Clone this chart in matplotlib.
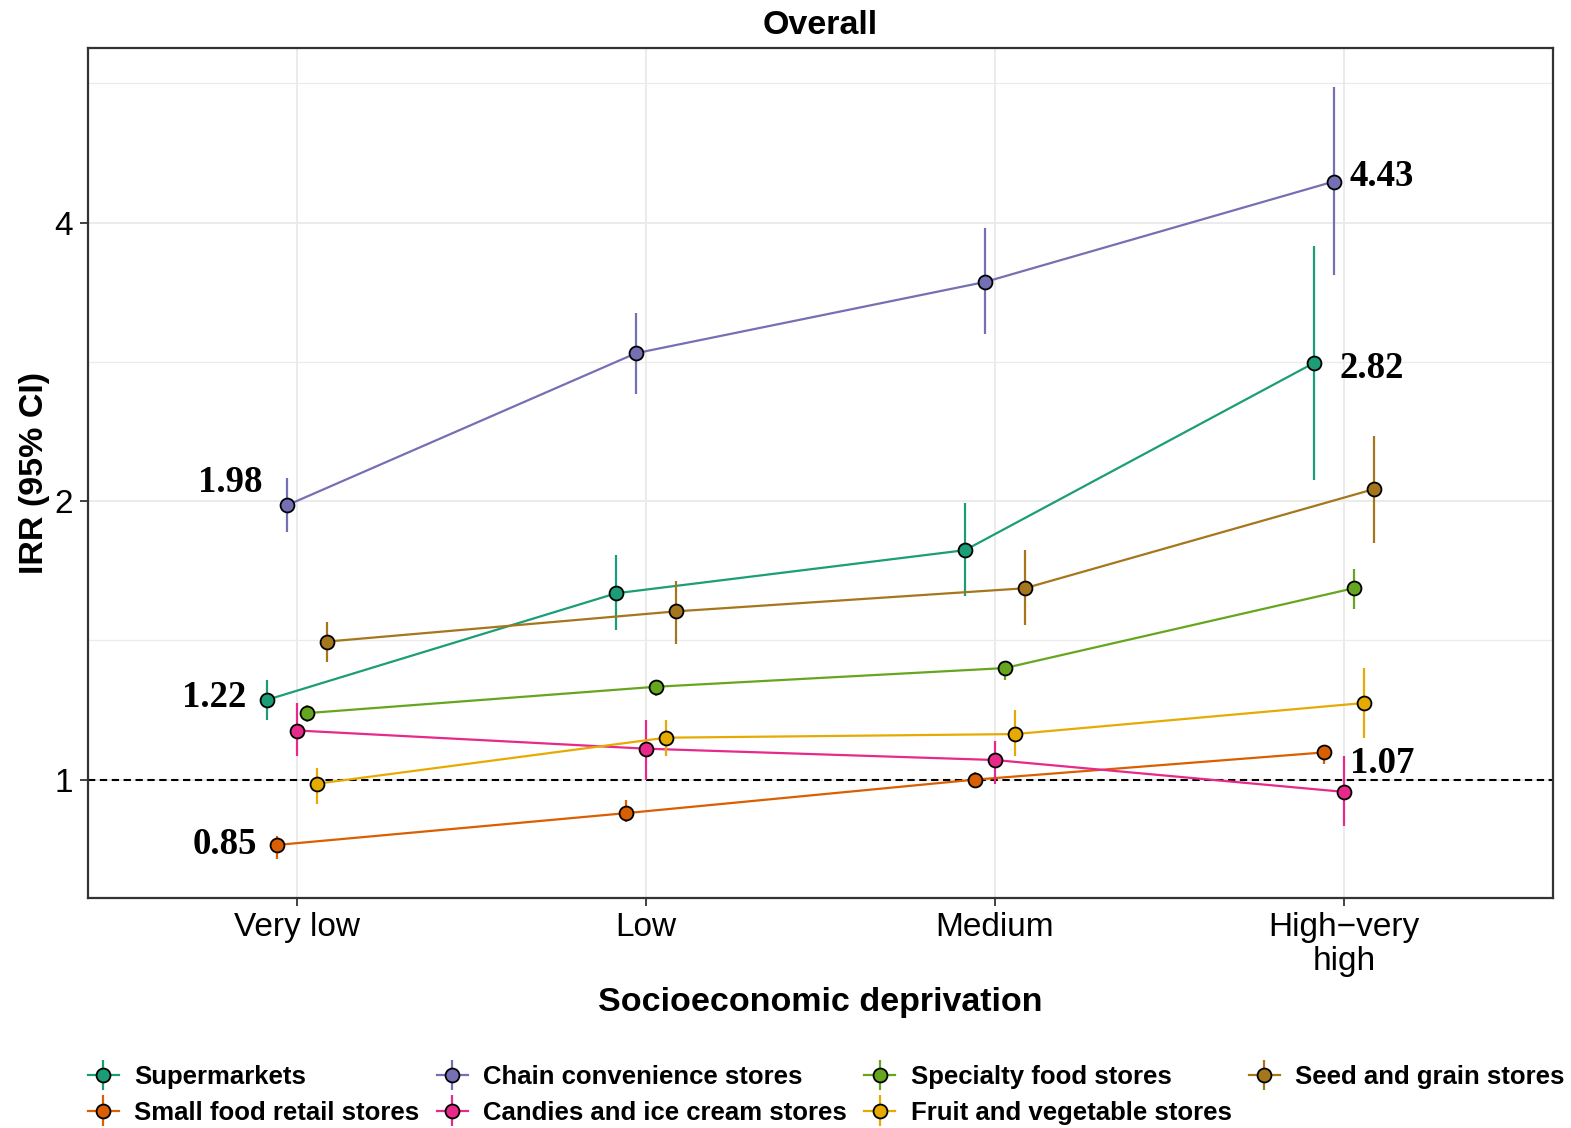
import numpy as np
import matplotlib
matplotlib.use("Agg")
import matplotlib.pyplot as plt
from matplotlib.legend_handler import HandlerErrorbar
from matplotlib.container import ErrorbarContainer

# ---------------- data ----------------
categories = ["Very low", "Low", "Medium", "High\u2212very\nhigh"]
series = ["Supermarkets", "Small food retail stores", "Chain convenience stores",
          "Candies and ice cream stores", "Specialty food stores",
          "Fruit and vegetable stores", "Seed and grain stores"]
colors = ["#1B9E77", "#D95F02", "#7570B3", "#E7298A", "#66A61E", "#E6AB02", "#A6761D"]

irr_supermarkets = [1.22, 1.59, 1.77, 2.82]
lo_supermarkets = [1.16, 1.45, 1.58, 2.11]
hi_supermarkets = [1.28, 1.75, 1.99, 3.77]

irr_small_food = [0.85, 0.92, 1.00, 1.07]
lo_small_food = [0.82, 0.90, 0.98, 1.04]
hi_small_food = [0.87, 0.95, 1.02, 1.09]

irr_chain = [1.98, 2.89, 3.45, 4.43]
lo_chain = [1.85, 2.61, 3.03, 3.51]
hi_chain = [2.12, 3.19, 3.95, 5.61]

irr_candies = [1.13, 1.08, 1.05, 0.97]
lo_candies = [1.06, 1.00, 0.99, 0.89]
hi_candies = [1.21, 1.16, 1.10, 1.06]

irr_specialty = [1.18, 1.26, 1.32, 1.61]
lo_specialty = [1.155, 1.23, 1.28, 1.53]
hi_specialty = [1.205, 1.28, 1.345, 1.69]

irr_fruit = [0.99, 1.11, 1.12, 1.21]
lo_fruit = [0.94, 1.06, 1.06, 1.11]
hi_fruit = [1.03, 1.16, 1.19, 1.32]

irr_seed = [1.41, 1.52, 1.61, 2.06]
lo_seed = [1.34, 1.40, 1.47, 1.80]
hi_seed = [1.48, 1.64, 1.77, 2.35]

irr = [irr_supermarkets, irr_small_food, irr_chain, irr_candies, irr_specialty, irr_fruit, irr_seed]
lows = [lo_supermarkets, lo_small_food, lo_chain, lo_candies, lo_specialty, lo_fruit, lo_seed]
highs = [hi_supermarkets, hi_small_food, hi_chain, hi_candies, hi_specialty, hi_fruit, hi_seed]

# labels: (series index, category index, text, offset in px)
annotations = [
    (2, 0, "1.98", (-57, 23)),
    (0, 0, "1.22", (-53, 2)),
    (1, 0, "0.85", (-52, 0)),
    (2, 3, "4.43", (48, 5)),
    (0, 3, "2.82", (58, -5)),
    (1, 3, "1.07", (58, -11)),
]

# ---------------- figure ----------------
W, H, DPI = 1571, 1128, 100
fig = plt.figure(figsize=(W / DPI, H / DPI), dpi=DPI)
L, R, T, B = 88, 1553, 48, 898
ax = fig.add_axes([L / W, 1 - B / H, (R - L) / W, (B - T) / H])
px2pt = 72 / DPI

ax.set_yscale("log", base=2)
ngroups = len(series)
dodge = 0.2
x0 = np.arange(len(categories))

# grid
ax.set_axisbelow(True)
for xc in x0:
    ax.axvline(xc, color="#EBEBEB", lw=2.0 * px2pt, zorder=0)
for yv in [1, 2, 4]:
    ax.axhline(yv, color="#EBEBEB", lw=2.0 * px2pt, zorder=0)
for yv in [2 ** 0.5, 2 ** 1.5, 2 ** 2.5]:
    ax.axhline(yv, color="#EBEBEB", lw=1.2 * px2pt, zorder=0)

ax.axhline(1, color="black", lw=1.5, ls=(0, (3.5, 2.2)), zorder=1)

handles = []
for i in range(ngroups):
    off = (i - (ngroups - 1) / 2) * dodge / ngroups
    xs = x0 + off
    y = np.array(irr[i])
    lo = np.array(lows[i])
    hi = np.array(highs[i])
    eb = ax.errorbar(xs, y, yerr=[y - lo, hi - y], fmt="-o", color=colors[i],
                     mfc=colors[i], mec="black", mew=1.3, ms=10,
                     lw=1.6, elinewidth=1.6, capsize=0,
                     zorder=3 + i, label=series[i])
    handles.append(eb)

for si, ci, txt, (dx, dy) in annotations:
    off = (si - (ngroups - 1) / 2) * dodge / ngroups
    ax.annotate(txt, xy=(x0[ci] + off, irr[si][ci]),
                xytext=(dx * px2pt, dy * px2pt), textcoords="offset points",
                ha="center", va="center", fontsize=26.5, fontweight="bold",
                family="Liberation Serif", zorder=20)

# limits
allv = np.log2(np.concatenate([np.array(lows).ravel(), np.array(highs).ravel()]))
rng = allv.max() - allv.min()
ax.set_ylim(2 ** (allv.min() - 0.05 * rng), 2 ** (allv.max() + 0.05 * rng))
ax.set_xlim(-0.6, len(categories) - 1 + 0.6)

ax.set_yticks([1, 2, 4])
ax.set_yticklabels(["1", "2", "4"])
ax.yaxis.set_minor_locator(matplotlib.ticker.NullLocator())
ax.set_xticks(x0)
ax.set_xticklabels(categories, linespacing=1.15)

ax.tick_params(axis="both", length=6, width=1.3, color="#333333", labelsize=24,
               labelcolor="black", direction="out")
ax.tick_params(axis="x", pad=4)
ax.tick_params(axis="y", pad=5)
for lab in ax.get_xticklabels() + ax.get_yticklabels():
    lab.set_family("Liberation Sans")

for sp in ax.spines.values():
    sp.set_color("#333333")
    sp.set_linewidth(1.6)

ax.set_xlabel("Socioeconomic deprivation", fontsize=24.5, fontweight="bold",
              family="Liberation Sans", va="center")
ax.xaxis.set_label_coords(0.5, -(1003 - B) / (B - T))
ax.set_ylabel("IRR (95% CI)", fontsize=24.5, fontweight="bold",
              family="Liberation Sans", va="center")
ax.yaxis.set_label_coords(-(L - 35) / (R - L), 0.5)

ax.text(0.5, 1 + (T - 26) / (B - T), "Overall", transform=ax.transAxes,
        ha="center", va="center", fontsize=24.5, fontweight="bold",
        family="Liberation Sans")

leg = fig.legend(handles=handles, labels=series, ncol=4, loc="upper left",
                 bbox_to_anchor=(88 / W, 1 - 1065 / H), frameon=False,
                 prop={"family": "Liberation Sans", "weight": "bold", "size": 18.5},
                 handlelength=1.2, handletextpad=0.6, columnspacing=0.68,
                 labelspacing=0.45, borderpad=0, borderaxespad=0,
                 handler_map={ErrorbarContainer: HandlerErrorbar(xerr_size=0.6)})

fig.savefig("out.png", dpi=DPI)
